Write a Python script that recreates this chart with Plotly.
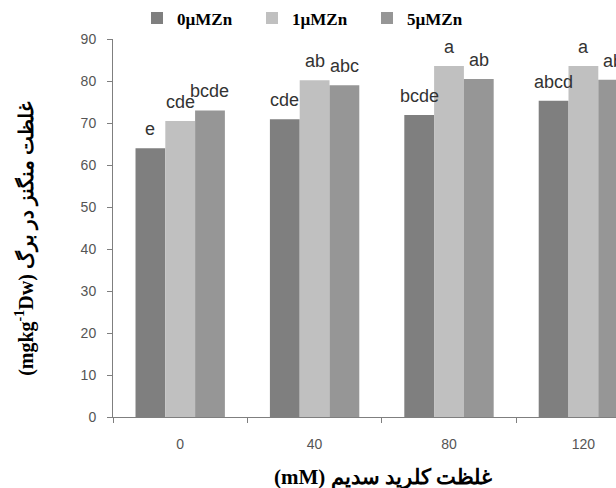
import plotly.graph_objects as go

categories = ["0", "40", "80", "120"]
series_names = ["0µMZn", "1µMZn", "5µMZn"]
zn0 = [64.0, 70.9, 71.9, 75.3]
zn1 = [70.5, 80.2, 83.6, 83.6]
zn5 = [73.0, 79.0, 80.5, 80.3]
letters0 = ["e", "cde", "bcde", "abcd"]
letters1 = ["cde", "ab", "a", "a"]
letters5 = ["bcde", "abc", "ab", "ab"]
y_ticks = [0, 10, 20, 30, 40, 50, 60, 70, 80, 90]

colors = ["#7f7f7f", "#c0c0c0", "#969696"]
series = [zn0, zn1, zn5]
letter_sets = [letters0, letters1, letters5]

W, H = 616, 488
ML, MR, MT, MB = 113, 0, 33, 71
BARGAP = 0.335
CAT_PX = 134.4
plot_w = W - ML - MR
x_max = plot_w / CAT_PX - 0.5

fig = go.Figure()
for name, vals, col in zip(series_names, series, colors):
    fig.add_trace(go.Bar(x=categories, y=vals, name=name,
                         marker=dict(color=col, line=dict(width=0))))

annotations = []
bw = (1 - BARGAP) / 3
for i, (vals, labs) in enumerate(zip(series, letter_sets)):
    for j, (v, lab) in enumerate(zip(vals, labs)):
        annotations.append(dict(
            x=j + (i - 1) * bw, y=v, xref="x", yref="y", text=lab,
            showarrow=False, yanchor="bottom", xanchor="center", yshift=7,
            font=dict(family="Liberation Sans, Arial", size=18, color="#333333")))

plot_h = H - MT - MB
annotations.append(dict(
    xref="paper", yref="paper", x=0, y=(H - MB - 236) / plot_h, xshift=-(ML - 25),
    text="(mgkg<sup>-1</sup>Dw) غلظت منگنز در برگ", textangle=-90, showarrow=False,
    xanchor="center", yanchor="middle",
    font=dict(family="Liberation Serif, Times New Roman", size=20, color="#000000", weight="bold")))
annotations.append(dict(
    xref="paper", yref="paper", x=(383 - ML) / plot_w, y=-(478 - (H - MB)) / plot_h,
    text="(mM) غلظت کلرید سدیم", showarrow=False, xanchor="center", yanchor="middle",
    font=dict(family="Liberation Serif, Times New Roman", size=21, color="#000000", weight="bold")))

fig.update_layout(
    width=W, height=H,
    margin=dict(l=ML, r=MR, t=MT, b=MB, pad=0),
    paper_bgcolor="white", plot_bgcolor="white",
    barmode="group", bargap=BARGAP, bargroupgap=0,
    showlegend=True,
    legend=dict(orientation="h", x=(137 - ML) / plot_w, xanchor="left",
                y=1 + (MT - 12) / plot_h, yanchor="middle",
                font=dict(family="Liberation Serif, Times New Roman", size=17, color="#000000", weight="bold"),
                entrywidth=70, entrywidthmode="pixels", itemwidth=30,
                bgcolor="rgba(0,0,0,0)"),
    xaxis=dict(type="category", range=[-0.5, x_max], showline=True, linecolor="#7f7f7f",
               linewidth=1, ticks="outside", ticklen=5, tickcolor="#7f7f7f",
               tickson="boundaries", showgrid=False, zeroline=False,
               ticklabelstandoff=14,
               tickfont=dict(family="Liberation Sans, Arial", size=14, color="#555555")),
    yaxis=dict(range=[0, 90], tickvals=y_ticks, showline=True, linecolor="#7f7f7f",
               linewidth=1, ticks="outside", ticklen=5, tickcolor="#7f7f7f",
               showgrid=False, zeroline=False, ticklabelstandoff=8,
               tickfont=dict(family="Liberation Sans, Arial", size=14, color="#555555")),
    annotations=annotations,
)

fig.write_html("out.html")
